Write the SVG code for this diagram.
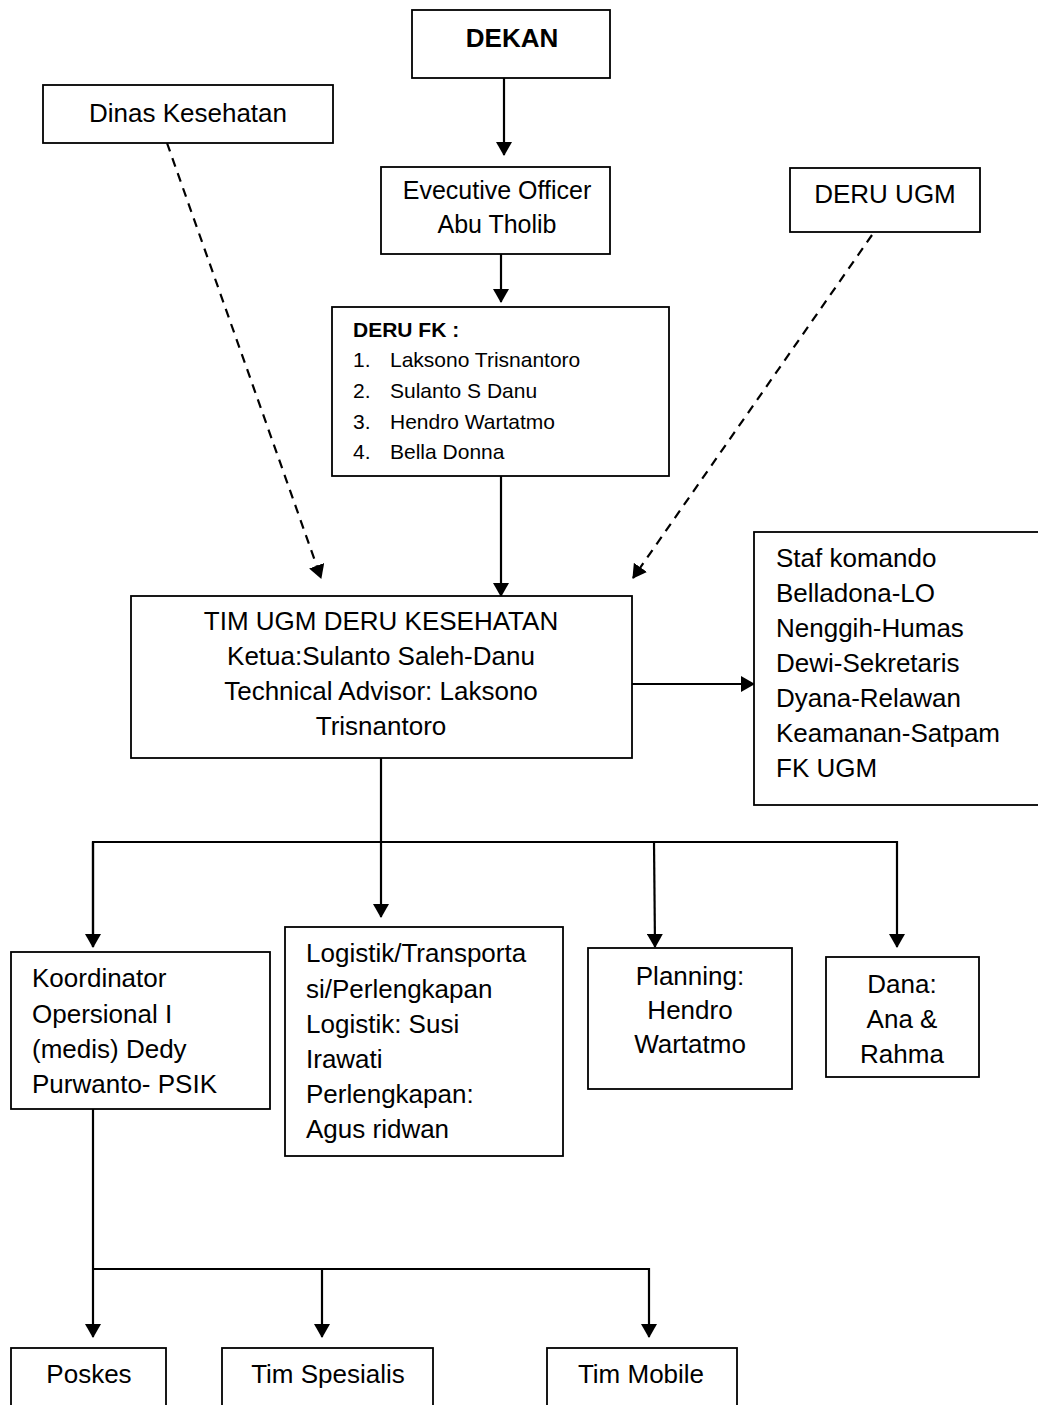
<svg xmlns="http://www.w3.org/2000/svg" width="1038" height="1405" viewBox="0 0 1038 1405">
  <style>
    .box { fill: #ffffff; stroke: #000000; stroke-width: 1.8; }
    .t { font-family: "Liberation Sans", Arial, sans-serif; font-size: 26px; fill: #000000; }
    .c { text-anchor: middle; }
    .sm { font-size: 21px; }
    .b { font-weight: bold; }
    .ln { fill: none; stroke: #000000; stroke-width: 2.2; }
    .dash { stroke-dasharray: 9 7; }
  </style>
  <defs>
    <marker id="ah" viewBox="0 0 14 16" refX="13" refY="8" markerWidth="14" markerHeight="16" markerUnits="userSpaceOnUse" orient="auto">
      <path d="M0,0 L14,8 L0,16 Z" fill="#000000"/>
    </marker>
  </defs>
  <rect width="1038" height="1405" fill="#ffffff"/>

  <g id="connectors">
    <path class="ln" d="M504,78 L504,155" marker-end="url(#ah)"/>
    <path class="ln" d="M501,254 L501,302" marker-end="url(#ah)"/>
    <path class="ln" d="M501,476 L501,596" marker-end="url(#ah)"/>
    <path class="ln dash" d="M167,143 L321,578" marker-end="url(#ah)"/>
    <path class="ln dash" d="M872,235 L633,578" marker-end="url(#ah)"/>
    <path class="ln" d="M632,684 L754,684" marker-end="url(#ah)"/>
    <path class="ln" d="M381,758 L381,917" marker-end="url(#ah)"/>
    <path class="ln" d="M93,947 L93,842 L897,842 L897,947" marker-end="url(#ah)"/>
    <path class="ln" d="M93,842 L93,947" marker-end="url(#ah)"/>
    <path class="ln" d="M654,842 L655,947" marker-end="url(#ah)"/>
    <path class="ln" d="M93,1109 L93,1337" marker-end="url(#ah)"/>
    <path class="ln" d="M93,1269 L649,1269 L649,1337" marker-end="url(#ah)"/>
    <path class="ln" d="M322,1269 L322,1337" marker-end="url(#ah)"/>
  </g>

  <g id="dekan">
    <rect class="box" x="412" y="10" width="198" height="68"/>
    <text class="t c b" x="512" y="47">DEKAN</text>
  </g>

  <g id="dinas-kesehatan">
    <rect class="box" x="43" y="85" width="290" height="58"/>
    <text class="t c" x="188" y="122">Dinas Kesehatan</text>
  </g>

  <g id="deru-ugm">
    <rect class="box" x="790" y="168" width="190" height="64"/>
    <text class="t c" x="885" y="203">DERU UGM</text>
  </g>

  <g id="executive-officer">
    <rect class="box" x="381" y="167" width="229" height="87"/>
    <text class="t c" x="497" y="199" style="font-size:25px">Evecutive Officer</text>
    <text class="t c" x="497" y="233" style="font-size:25px">Abu Tholib</text>
  </g>

  <g id="deru-fk">
    <rect class="box" x="332" y="307" width="337" height="169"/>
    <text class="t sm b" x="353" y="337">DERU FK :</text>
    <text class="t sm" x="353" y="367">1.</text>
    <text class="t sm" x="390" y="367">Laksono Trisnantoro</text>
    <text class="t sm" x="353" y="398">2.</text>
    <text class="t sm" x="390" y="398">Sulanto S Danu</text>
    <text class="t sm" x="353" y="429">3.</text>
    <text class="t sm" x="390" y="429">Hendro Wartatmo</text>
    <text class="t sm" x="353" y="459">4.</text>
    <text class="t sm" x="390" y="459">Bella Donna</text>
  </g>

  <g id="tim-ugm">
    <rect class="box" x="131" y="596" width="501" height="162"/>
    <text class="t c" x="381" y="630">TIM UGM DERU KESEHATAN</text>
    <text class="t c" x="381" y="665">Ketua:Sulanto Saleh-Danu</text>
    <text class="t c" x="381" y="700">Technical Advisor: Laksono</text>
    <text class="t c" x="381" y="735">Trisnantoro</text>
  </g>

  <g id="staf-komando">
    <rect class="box" x="754" y="532" width="300" height="273"/>
    <text class="t" x="776" y="567">Staf komando</text>
    <text class="t" x="776" y="602">Belladona-LO</text>
    <text class="t" x="776" y="637">Nenggih-Humas</text>
    <text class="t" x="776" y="672">Dewi-Sekretaris</text>
    <text class="t" x="776" y="707">Dyana-Relawan</text>
    <text class="t" x="776" y="742">Keamanan-Satpam</text>
    <text class="t" x="776" y="777">FK UGM</text>
  </g>

  <g id="koordinator">
    <rect class="box" x="11" y="952" width="259" height="157"/>
    <text class="t" x="32" y="987">Koordinator</text>
    <text class="t" x="32" y="1023">Opersional I</text>
    <text class="t" x="32" y="1058">(medis) Dedy</text>
    <text class="t" x="32" y="1093">Purwanto- PSIK</text>
  </g>

  <g id="logistik">
    <rect class="box" x="285" y="927" width="278" height="229"/>
    <text class="t" x="306" y="962">Logistik/Transporta</text>
    <text class="t" x="306" y="998">si/Perlengkapan</text>
    <text class="t" x="306" y="1033">Logistik: Susi</text>
    <text class="t" x="306" y="1068">Irawati</text>
    <text class="t" x="306" y="1103">Perlengkapan:</text>
    <text class="t" x="306" y="1138">Agus ridwan</text>
  </g>

  <g id="planning">
    <rect class="box" x="588" y="948" width="204" height="141"/>
    <text class="t c" x="690" y="985">Planning:</text>
    <text class="t c" x="690" y="1019">Hendro</text>
    <text class="t c" x="690" y="1053">Wartatmo</text>
  </g>

  <g id="dana">
    <rect class="box" x="826" y="957" width="153" height="120"/>
    <text class="t c" x="902" y="993">Dana:</text>
    <text class="t c" x="902" y="1028">Ana &amp;</text>
    <text class="t c" x="902" y="1063">Rahma</text>
  </g>

  <g id="poskes">
    <rect class="box" x="11" y="1348" width="155" height="80"/>
    <text class="t c" x="89" y="1383">Poskes</text>
  </g>

  <g id="tim-spesialis">
    <rect class="box" x="222" y="1348" width="211" height="80"/>
    <text class="t c" x="328" y="1383">Tim Spesialis</text>
  </g>

  <g id="tim-mobile">
    <rect class="box" x="547" y="1348" width="190" height="80"/>
    <text class="t c" x="641" y="1383">Tim Mobile</text>
  </g>
</svg>
